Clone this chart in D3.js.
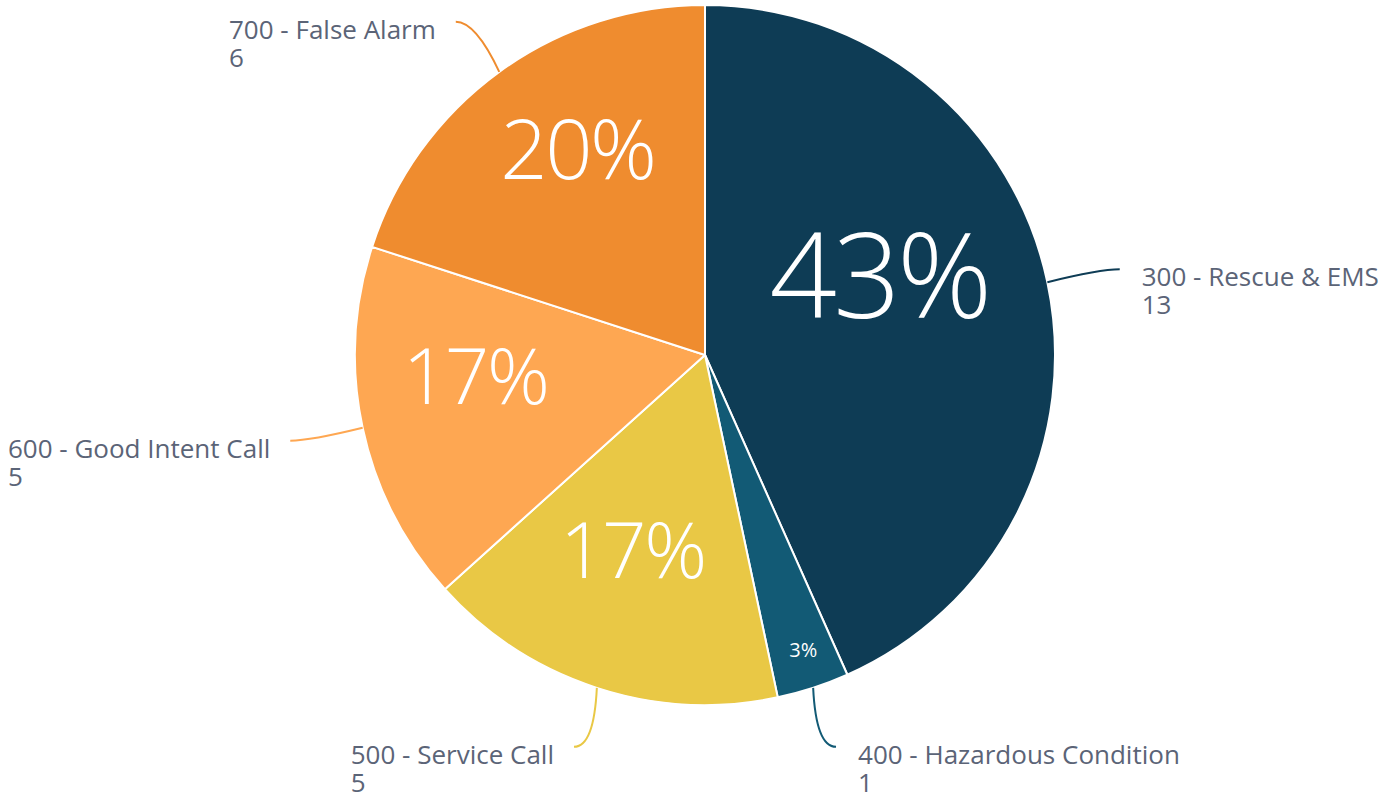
<!DOCTYPE html>
<html>
<head>
<meta charset="utf-8">
<style>
  body { margin: 0; background: #fff; }
  svg text { font-family: "Open Sans", sans-serif; }
</style>
</head>
<body>
<script src="https://cdn.jsdelivr.net/npm/d3@7"></script>
<script>
// incident types and counts
var categories = ["300 - Rescue & EMS", "400 - Hazardous Condition", "500 - Service Call",
                  "600 - Good Intent Call", "700 - False Alarm"];
var counts = [13, 1, 5, 5, 6];
var colors = ["#0e3c55", "#125a75", "#e9c845", "#fea752", "#ef8c2f"];

var width = 1391, height = 796;
var cx = 705, cy = 355, radius = 350;

var svg = d3.select("body").append("svg")
    .attr("width", width)
    .attr("height", height);

var g = svg.append("g").attr("transform", "translate(" + cx + "," + cy + ")");

var total = d3.sum(counts);
var data = categories.map(function(c, i) { return {name: c, value: counts[i], color: colors[i]}; });

var pie = d3.pie().sort(null).value(function(d) { return d.value; });
var arc = d3.arc().innerRadius(0).outerRadius(radius);
var arcs = pie(data);

// big percent text inside, size grows with the slice
var fontSize = d3.scaleLinear().domain([1, 5, 6, 13]).range([20, 78, 83, 118]);
var labelDist = d3.scaleLinear().domain([1, 5, 6, 13]).range([318, 235, 217, 178]);

g.selectAll("path.slice")
  .data(arcs)
  .enter().append("path")
    .attr("class", "slice")
    .attr("d", arc)
    .attr("fill", function(d) { return d.data.color; })
    .attr("stroke", "#fff")
    .attr("stroke-width", 2)
    .attr("stroke-linejoin", "round");

function mid(d) { return (d.startAngle + d.endAngle) / 2; }
function pt(a, r) { return [Math.sin(a) * r, -Math.cos(a) * r]; }

g.selectAll("text.pct")
  .data(arcs)
  .enter().append("text")
    .attr("class", "pct")
    .attr("x", function(d) { return pt(mid(d), labelDist(d.data.value))[0]; })
    .attr("y", function(d) { return pt(mid(d), labelDist(d.data.value))[1]; })
    .attr("text-anchor", "middle")
    .attr("fill", "#fff")
    .attr("font-weight", function(d) { return d.data.value > 2 ? 300 : 400; })
    .attr("letter-spacing", function(d) { return d.data.value > 2 ? "-0.03em" : null; })
    .attr("font-size", function(d) { return fontSize(d.data.value); })
    .text(function(d) { return Math.round(d.data.value / total * 100) + "%"; });

// connector end points sit on a slightly flattened ring outside the pie
var outRx = 424, outRy = 412;
function anchor(d) {
  var a = mid(d);
  return [Math.sin(a) * outRx, -Math.cos(a) * outRy];
}

g.selectAll("path.conn")
  .data(arcs)
  .enter().append("path")
    .attr("class", "conn")
    .attr("fill", "none")
    .attr("stroke", function(d) { return d.data.color; })
    .attr("stroke-width", 2)
    .attr("d", function(d) {
      var p0 = pt(mid(d), radius), p1 = anchor(d);
      var side = p1[0] > 0 ? 1 : -1;
      var c = [p1[0] - side * 20, p1[1]];
      return "M" + p0 + "Q" + c + " " + p1;
    });

var labels = g.selectAll("text.lbl")
  .data(arcs)
  .enter().append("text")
    .attr("class", "lbl")
    .attr("fill", "#5b6477")
    .attr("font-size", 26)
    .attr("text-anchor", "start")
    .attr("x", function(d) {
      var p = anchor(d);
      return p[0] > 0 ? p[0] + 22 : p[0] - 20;
    })
    .attr("y", function(d) { return anchor(d)[1] + 17; });

labels.each(function(d) {
  var t = d3.select(this);
  var p = anchor(d);
  var x = +t.attr("x");
  var l1 = t.append("tspan").attr("x", x).text(d.data.name);
  if (p[0] < 0) {
    // right-align the block against the connector, lines share left edge
    var w = l1.node().getComputedTextLength();
    x = x - w;
    l1.attr("x", x);
  }
  t.append("tspan").attr("x", x).attr("dy", 28).text(d.data.value);
});
</script>
</body>
</html>
